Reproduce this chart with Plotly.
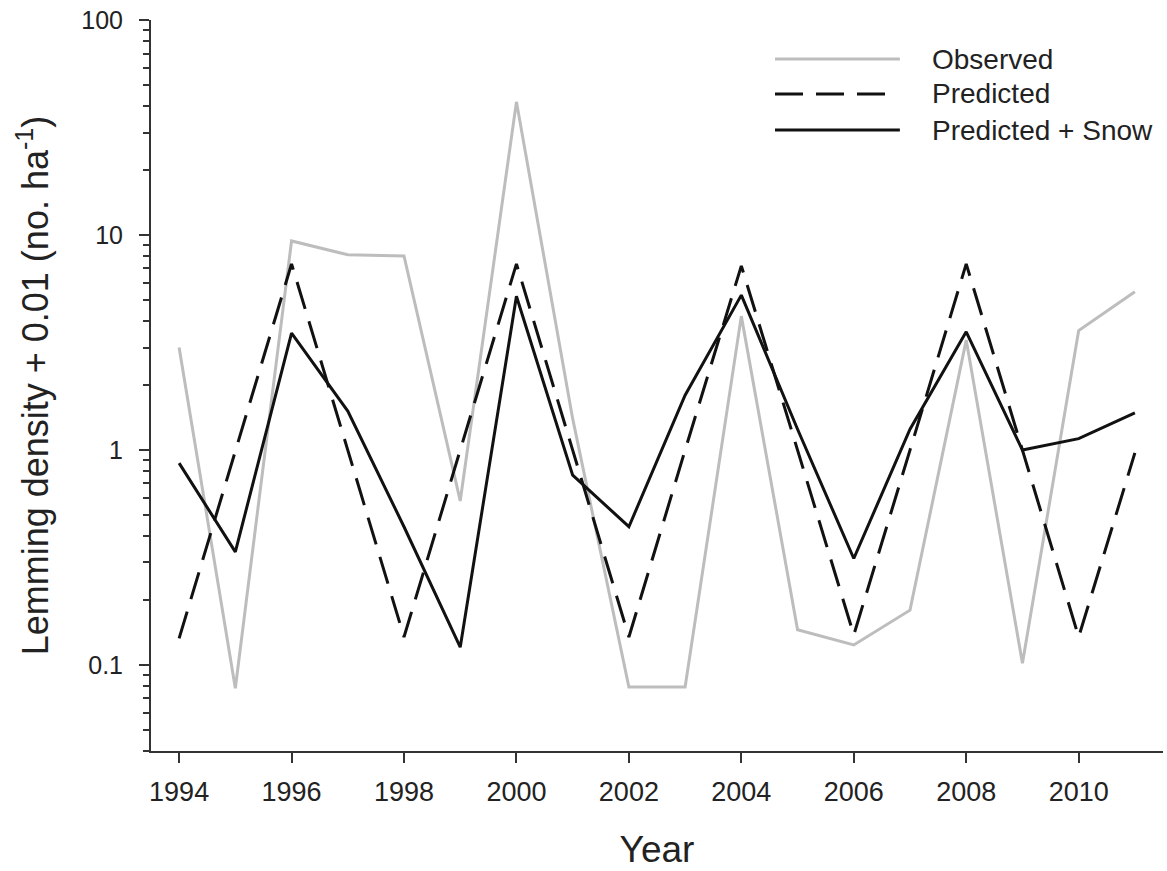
import plotly.graph_objects as go

years = list(range(1994, 2012))
observed = [3.0, 0.078, 9.4, 8.1, 8.0, 0.58, 41.7, 1.4, 0.079, 0.079, 4.2, 0.146, 0.124, 0.18, 3.25, 0.102, 3.6, 5.45]
predicted = [0.133, 1.0, 7.35, 1.0, 0.135, 1.0, 7.35, 1.0, 0.135, 1.0, 7.2, 1.0, 0.138, 1.0, 7.35, 1.0, 0.135, 0.97]
predicted_snow = [0.87, 0.336, 3.5, 1.52, 0.44, 0.121, 5.2, 0.765, 0.44, 1.8, 5.26, 1.25, 0.313, 1.25, 3.55, 1.0, 1.13, 1.49]

series_names = ["Observed", "Predicted", "Predicted + Snow"]
series_colors = ["#bdbdbd", "#111111", "#111111"]
series_dash = ["solid", "28px,13px", "solid"]

x_ticks = [1994, 1996, 1998, 2000, 2002, 2004, 2006, 2008, 2010]
y_ticks = [0.1, 1, 10, 100]
y_ticktext = ["0.1", "1", "10", "100"]

FONT = "Liberation Sans, Arial, sans-serif"
TXT = "#222222"

fig = go.Figure()
for name, vals, col, dash in zip(series_names, [observed, predicted, predicted_snow], series_colors, series_dash):
    fig.add_trace(go.Scatter(x=years, y=vals, mode="lines", name=name,
                             line=dict(color=col, width=3, dash=dash),
                             showlegend=False))

# custom legend (long line samples like the original)
row_y = [0.9466, 0.8988, 0.8495]
for name, col, dash, yy in zip(series_names, series_colors, series_dash, row_y):
    x1 = 0.740 if dash == "solid" else 0.728
    fig.add_shape(type="line", xref="paper", yref="paper", x0=0.6166, x1=x1, y0=yy, y1=yy,
                  line=dict(color=col, width=3, dash=dash))
    fig.add_annotation(xref="paper", yref="paper", x=0.7698, y=yy, text=name, showarrow=False,
                       xanchor="left", yanchor="middle", font=dict(size=28, color=TXT, family=FONT))

fig.update_layout(
    width=1167, height=871,
    margin=dict(l=151, r=4, t=20, b=120),
    plot_bgcolor="white", paper_bgcolor="white",
    font=dict(family=FONT, color=TXT),
    xaxis=dict(range=[1993.5, 2011.5], tickvals=x_ticks, ticks="outside", ticklen=10, tickwidth=2,
               tickcolor="#333", showline=True, linecolor="#333", linewidth=2, showgrid=False,
               zeroline=False, tickfont=dict(size=27, color=TXT), ticklabelstandoff=6,
               automargin=False,
               title=dict(text="Year", font=dict(size=37, color=TXT), standoff=30)),
    yaxis=dict(type="log", range=[-1.4, 2.001], tickvals=y_ticks, ticktext=y_ticktext, ticks="outside",
               ticklen=10, tickwidth=2, tickcolor="#333", showline=True, linecolor="#333", linewidth=2,
               showgrid=False, zeroline=False, tickfont=dict(size=25, color=TXT), ticklabelstandoff=11,
               ticklabeloverflow="allow", automargin=False,
               minor=dict(ticks="outside", ticklen=6, tickwidth=1.5, tickcolor="#333", dtick="D1",
                          showgrid=False),
               title=dict(text="Lemming density + 0.01 (no. ha<sup>-1</sup>)",
                          font=dict(size=36, color=TXT), standoff=22)),
)

fig.write_html("out.html", config={"displayModeBar": False},
               post_script="document.body.style.margin='0';")
